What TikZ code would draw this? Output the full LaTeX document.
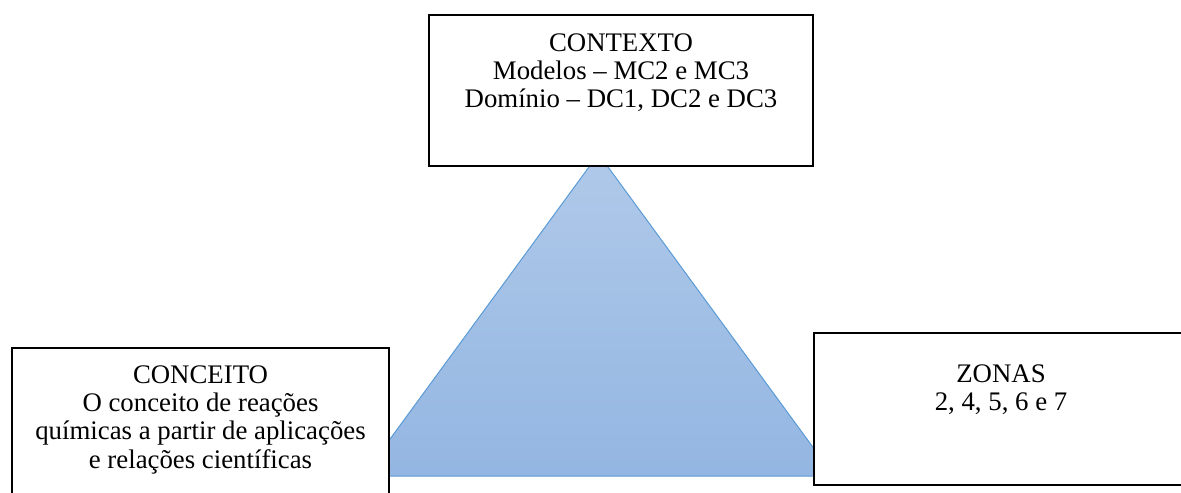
\documentclass[tikz,border=0pt]{standalone}
\usepackage{fontspec}
\setmainfont{Liberation Serif}
\definecolor{tritop}{HTML}{B0C9E9}
\definecolor{tribot}{HTML}{93B6E2}
\definecolor{triedge}{HTML}{5B9BD5}
\begin{document}
\begin{tikzpicture}[x=0.5pt,y=-0.5pt,
  box/.style={draw=black,line width=1pt,fill=white,inner sep=0pt,minimum height=76pt},
  txt/.style={font=\fontsize{13.4}{14.2}\selectfont,align=center,inner sep=0pt,anchor=north}]
\useasboundingbox (0,0) rectangle (1181,492);
\clip (0,0) rectangle (1181,492);
% triangle
\shade[top color=tritop,bottom color=tribot,draw=triedge,line width=0.5pt]
  (598.5,154) -- (834,476) -- (363,476) -- cycle;
% boxes
\node[box,minimum width=192pt,minimum height=75.5pt] (ctxbox) at (621,90.5) {};
\node[box,minimum width=188.5pt] (conbox) at (200.5,424) {};
\node[box,minimum width=188pt] (zonbox) at (1002,409) {};
% texts
\node[txt] (ctxtxt) at (621,33) {CONTEXTO\\Modelos – MC2 e MC3\\Domínio – DC1, DC2 e DC3};
\node[txt] (contxt) at (200.5,365) {CONCEITO\\O conceito de reações\\químicas a partir de aplicações\\e relações científicas};
\node[txt] (zontxt) at (1001,364) {ZONAS\\2, 4, 5, 6 e 7};
\end{tikzpicture}
\end{document}
